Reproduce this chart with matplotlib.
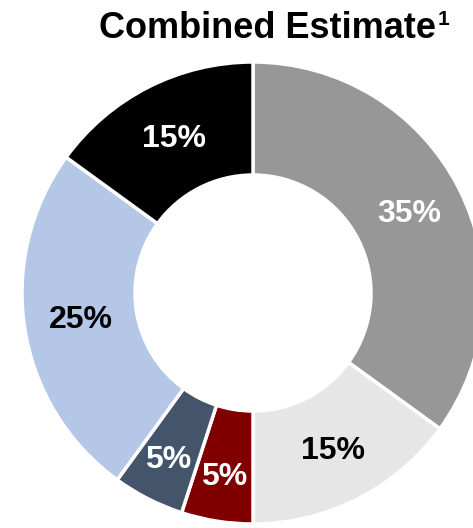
import matplotlib
matplotlib.use("Agg")
import matplotlib.pyplot as plt
import numpy as np

plt.rcParams['font.family'] = ['Liberation Sans', 'DejaVu Sans']

categories = ["Gray", "Light gray", "Dark red", "Slate", "Light blue", "Black"]
values = [35, 15, 5, 5, 25, 15]
colors = ["#979797", "#e6e6e6", "#800000", "#44546a", "#b4c7e7", "#000000"]
label_colors = ["white", "black", "white", "white", "black", "white"]
label_radius = [175, 177, 186, 187, 174, 173]
title = "Combined Estimate"
title_sup = "1"

W, H = 473, 528
fig = plt.figure(figsize=(W / 100, H / 100), dpi=100)
ax = fig.add_axes([0, 0, 1, 1])

R_OUT = 231
R_IN = 118
wedges, _ = ax.pie(values, colors=colors, radius=R_OUT, center=(0, 0),
                   startangle=90, counterclock=False,
                   wedgeprops=dict(width=R_OUT - R_IN, edgecolor="white", linewidth=2.5))

total = sum(values)
for w, v, c, r in zip(wedges, values, label_colors, label_radius):
    mid = np.deg2rad((w.theta1 + w.theta2) / 2)
    ax.text(r * np.cos(mid), r * np.sin(mid), f"{round(100 * v / total)}%",
            ha="center", va="center", fontsize=23, fontweight="bold", color=c)

ax.set_xlim(-253, W - 253)
ax.set_ylim(-(H - 293), 293)
ax.set_aspect("equal")
ax.axis("off")

t = fig.text(99 / W, (H - 38) / H, title, fontsize=26, fontweight="bold",
             ha="left", va="baseline")
fig.canvas.draw()
bb = t.get_window_extent()
fig.text((bb.x1 + 2) / W, (H - 25) / H, title_sup, fontsize=15, fontweight="bold",
         ha="left", va="baseline")

fig.savefig("out.png", dpi=100)
